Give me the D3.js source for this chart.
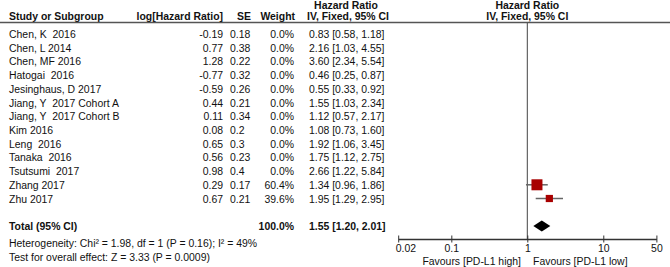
<!DOCTYPE html>
<html>
<head>
<meta charset="utf-8">
<script src="https://cdn.jsdelivr.net/npm/d3@7"></script>
<style>
  body { margin: 0; background: #fff; }
  svg text { font-family: "Liberation Sans", Arial, sans-serif; font-size: 10.45px; fill: #111; white-space: pre; }
  .bold { font-weight: bold; }
</style>
</head>
<body>
<div id="forest"></div>
<script>
// study rows
var studies = ["Chen, K  2016", "Chen, L 2014", "Chen, MF 2016", "Hatogai  2016", "Jesinghaus, D 2017",
  "Jiang, Y  2017 Cohort A", "Jiang, Y  2017 Cohort B", "Kim 2016", "Leng  2016", "Tanaka  2016",
  "Tsutsumi  2017", "Zhang 2017", "Zhu 2017"];
var logHR = ["-0.19", "0.77", "1.28", "-0.77", "-0.59", "0.44", "0.11", "0.08", "0.65", "0.56", "0.98", "0.29", "0.67"];
var seVals = ["0.18", "0.38", "0.22", "0.32", "0.26", "0.21", "0.34", "0.2", "0.3", "0.23", "0.4", "0.17", "0.21"];
var weights = [0, 0, 0, 0, 0, 0, 0, 0, 0, 0, 0, 60.4, 39.6];
var hr = [0.83, 2.16, 3.60, 0.46, 0.55, 1.55, 1.12, 1.08, 1.92, 1.75, 2.66, 1.34, 1.95];
var lo = [0.58, 1.03, 2.34, 0.25, 0.33, 1.03, 0.57, 0.73, 1.06, 1.12, 1.22, 0.96, 1.29];
var hi = [1.18, 4.55, 5.54, 0.87, 0.92, 2.34, 2.17, 1.60, 3.45, 2.75, 5.84, 1.86, 2.95];

// pooled
var total = {hr: 1.55, lo: 1.20, hi: 2.01, weight: "100.0%"};
var tickVals = [0.02, 0.1, 1, 10, 50];

var W = 670, H = 267;
var svg = d3.select("#forest").append("svg")
  .attr("width", W).attr("height", H);

var data = studies.map(function(s, i) {
  return {name: s, lhr: logHR[i], se: seVals[i], w: weights[i], hr: hr[i], lo: lo[i], hi: hi[i], i: i};
});

// scales
var x = d3.scaleLog().domain([0.02, 50]).range([398.2, 656.4]);
var y = d3.scaleLinear().domain([0, 12]).range([34, 198.5]);
var boxSize = d3.scaleLinear().domain([0, 60.4]).range([0, 11]);
var fmt = d3.format(".2f");

// header
svg.append("text").attr("class", "bold").attr("x", 346).attr("y", 9).attr("text-anchor", "middle").text("Hazard Ratio");
svg.append("text").attr("class", "bold").attr("x", x(1)).attr("y", 9).attr("text-anchor", "middle").text("Hazard Ratio");
var hy = 20;
svg.append("text").attr("class", "bold").attr("x", 9).attr("y", hy).text("Study or Subgroup");
svg.append("text").attr("class", "bold").attr("x", 223).attr("y", hy).attr("text-anchor", "end").text("log[Hazard Ratio]");
svg.append("text").attr("class", "bold").attr("x", 251).attr("y", hy).attr("text-anchor", "end").text("SE");
svg.append("text").attr("class", "bold").attr("x", 295).attr("y", hy).attr("text-anchor", "end").text("Weight");
svg.append("text").attr("class", "bold").attr("x", 348).attr("y", hy).attr("text-anchor", "middle").text("IV, Fixed, 95% CI");
svg.append("text").attr("class", "bold").attr("x", x(1)).attr("y", hy).attr("text-anchor", "middle").text("IV, Fixed, 95% CI");

svg.append("line")
  .attr("x1", 0).attr("x2", W).attr("y1", 22.5).attr("y2", 22.5)
  .attr("stroke", "#555").attr("stroke-width", 1.5);

// line of no effect
svg.append("line")
  .attr("x1", x(1)).attr("x2", x(1)).attr("y1", 23).attr("y2", 239)
  .attr("stroke", "#444").attr("stroke-width", 1);

// rows of text
var rows = svg.append("g").selectAll("g")
  .data(data)
  .join("g")
    .attr("transform", function(d) { return "translate(0," + (y(d.i) + 4) + ")"; });

rows.append("text").attr("x", 9).text(function(d) { return d.name; });
rows.append("text").attr("x", 223).attr("text-anchor", "end").text(function(d) { return d.lhr; });
rows.append("text").attr("x", 230).text(function(d) { return d.se; });
rows.append("text").attr("x", 294).attr("text-anchor", "end").text(function(d) { return d.w.toFixed(1) + "%"; });
rows.append("text").attr("x", 309)
  .text(function(d) { return fmt(d.hr) + " [" + fmt(d.lo) + ", " + fmt(d.hi) + "]"; });

// CI lines and boxes (only studies with weight are drawn)
var weighted = data.filter(function(d) { return d.w > 0; });

svg.append("g").selectAll("line")
  .data(weighted)
  .join("line")
    .attr("x1", function(d) { return x(d.lo); })
    .attr("x2", function(d) { return x(d.hi); })
    .attr("y1", function(d) { return y(d.i); })
    .attr("y2", function(d) { return y(d.i); })
    .attr("stroke", "#666").attr("stroke-width", 1.5);

svg.append("g").selectAll("rect")
  .data(weighted)
  .join("rect")
    .attr("x", function(d) { return x(d.hr) - boxSize(d.w) / 2; })
    .attr("y", function(d) { return y(d.i) - boxSize(d.w) / 2; })
    .attr("width", function(d) { return boxSize(d.w); })
    .attr("height", function(d) { return boxSize(d.w); })
    .attr("fill", "#a80000");

// total row
var ty = 226;
svg.append("text").attr("class", "bold").attr("x", 9).attr("y", ty + 4).text("Total (95% CI)");
svg.append("text").attr("class", "bold").attr("x", 294).attr("y", ty + 4).attr("text-anchor", "end").text(total.weight);
svg.append("text").attr("class", "bold").attr("x", 309).attr("y", ty + 4)
  .text(fmt(total.hr) + " [" + fmt(total.lo) + ", " + fmt(total.hi) + "]");

svg.append("path")
  .attr("d", "M" + x(total.lo) + "," + ty + "L" + x(total.hr) + "," + (ty - 5.5) +
    "L" + x(total.hi) + "," + ty + "L" + x(total.hr) + "," + (ty + 5.5) + "Z")
  .attr("fill", "#000");

svg.append("text").attr("x", 9).attr("y", 246.5).text("Heterogeneity: Chi\u00b2 = 1.98, df = 1 (P = 0.16); I\u00b2 = 49%");
svg.append("text").attr("x", 9).attr("y", 261).text("Test for overall effect: Z = 3.33 (P = 0.0009)");

// axis
var axis = svg.append("g")
  .attr("transform", "translate(0,239)")
  .call(d3.axisBottom(x).tickValues(tickVals).tickSize(3.5).tickSizeOuter(0)
    .tickFormat(function(d) { return String(d); }));
axis.select(".domain").attr("stroke", "#333").attr("stroke-width", 1.5);
axis.selectAll(".tick line").attr("y1", -3.5).attr("stroke", "#333");
axis.selectAll(".tick text")
  .attr("y", 6).attr("dy", "0.71em")
  .style("font-family", "'Liberation Sans', Arial, sans-serif").style("font-size", "10.45px").attr("fill", "#111");
axis.selectAll(".tick text").filter(function(d) { return d === 0.02; })
  .attr("text-anchor", "start").attr("x", -3);

svg.append("text").attr("x", 521).attr("y", 265).attr("text-anchor", "end").text("Favours [PD-L1 high]");
svg.append("text").attr("x", 533).attr("y", 265).text("Favours [PD-L1 low]");
</script>
</body>
</html>
